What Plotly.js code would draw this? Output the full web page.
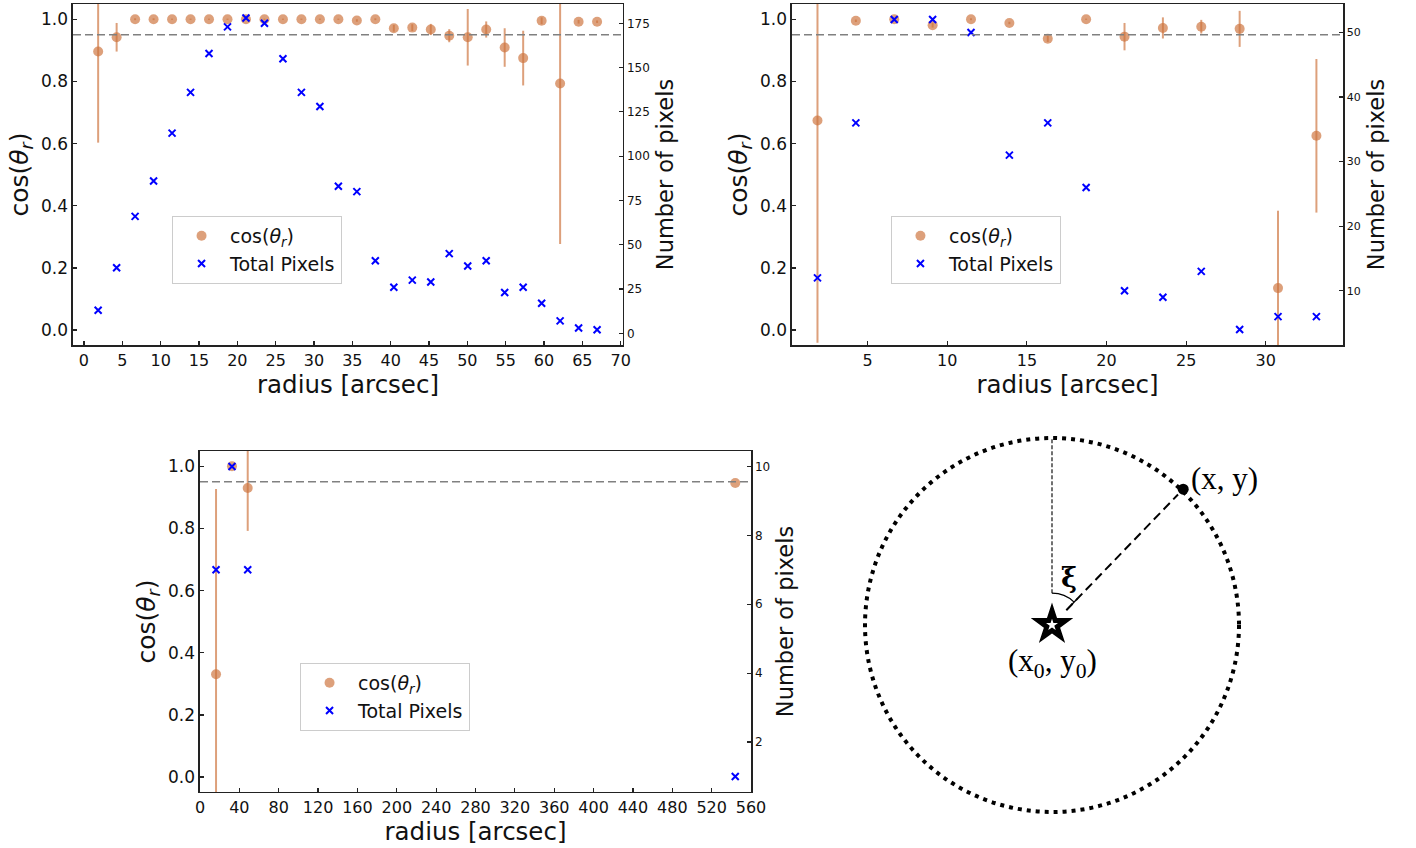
<!DOCTYPE html>
<html>
<head>
<meta charset="utf-8">
<script src="https://cdn.plot.ly/plotly-3.0.1.min.js"></script>
<style>
html,body{margin:0;padding:0;background:#fff;}
#chart{width:1416px;height:848px;}
</style>
</head>
<body>
<div id="chart"></div>
<script>
// ---------- Panel A (top-left) ----------
const radiusA = [1.85, 4.26, 6.67, 9.08, 11.49, 13.90, 16.31, 18.72, 21.13, 23.54, 25.95, 28.36, 30.77, 33.18, 35.59, 38.00, 40.41, 42.82, 45.23, 47.64, 50.05, 52.46, 54.87, 57.28, 59.69, 62.10, 64.51, 66.92];
const cosA    = [0.896, 0.942, 1.0, 1.0, 1.0, 1.0, 1.0, 1.0, 1.0, 1.0, 1.0, 1.0, 1.0, 1.0, 0.996, 1.0, 0.971, 0.973, 0.967, 0.947, 0.942, 0.967, 0.909, 0.875, 0.995, 0.793, 0.992, 0.992];
const cosErrA = [0.293, 0.046, 0.003, 0.003, 0.002, 0.002, 0.002, 0.002, 0.002, 0.002, 0.002, 0.002, 0.002, 0.002, 0.004, 0.003, 0.011, 0.011, 0.018, 0.021, 0.091, 0.026, 0.062, 0.088, 0.011, 0.516, 0.006, 0.004];
const pixA    = [13, 37, 66, 86, 113, 136, 158, 173, 178, 175, 155, 136, 128, 83, 80, 41, 26, 30, 29, 45, 38, 41, 23, 26, 17, 7, 3, 2];

// ---------- Panel B (top-right) ----------
const radiusB = [1.85, 4.26, 6.67, 9.08, 11.49, 13.90, 16.31, 18.72, 21.13, 23.54, 25.95, 28.36, 30.77, 33.18];
const cosB    = [0.674, 0.995, 1.0, 0.981, 1.0, 0.988, 0.937, 1.0, 0.944, 0.972, 0.976, 0.969, 0.135, 0.625];
const cosErrB = [0.715, 0.004, 0.003, 0.008, 0.003, 0.004, 0.010, 0.002, 0.044, 0.034, 0.022, 0.058, 0.249, 0.247];
const pixB    = [12, 36, 52, 52, 50, 31, 36, 26, 10, 9, 13, 4, 6, 6];

// ---------- Panel C (bottom-left) ----------
const radiusC = [16.3, 32.5, 48.5, 544];
const cosC    = [0.331, 1.0, 0.930, 0.946];
const cosErrC = [0.596, 0.0, 0.138, 0.0];
const pixC    = [7, 10, 7, 1];

const threshold = 0.95;
const cosLabel = 'cos(<i>θ<sub>r</sub></i>)';
const pixLabel = 'Total Pixels';

// ---------- Schematic (unit circle) ----------
const xiAngleDeg = 44;      // angle of (x, y) from vertical
const pointR = 1.01;

const orange = 'rgba(205,115,60,0.68)';
const blue = '#0000ff';
const spine = '#222222';
const FONT = 'DejaVu Sans, sans-serif';

function cosTrace(x, y, err, xa, ya, leg) {
  return {
    type: 'scatter', mode: 'markers', x: x, y: y, xaxis: xa, yaxis: ya,
    name: cosLabel, legend: leg,
    marker: {color: orange, size: 10, line: {width: 0}},
    error_y: {type: 'data', array: err, visible: true, color: orange, thickness: 2, width: 0},
    hoverinfo: 'x+y'
  };
}
function pixTrace(x, y, xa, ya, leg) {
  return {
    type: 'scatter', mode: 'markers', x: x, y: y, xaxis: xa, yaxis: ya,
    name: pixLabel, legend: leg,
    marker: {color: blue, symbol: 'x-thin-open', size: 7, line: {width: 2, color: blue}},
    hoverinfo: 'x+y'
  };
}

const traces = [
  cosTrace(radiusA, cosA, cosErrA, 'x', 'y', 'legend'),
  pixTrace(radiusA, pixA, 'x', 'y2', 'legend'),
  cosTrace(radiusB, cosB, cosErrB, 'x3', 'y3', 'legend2'),
  pixTrace(radiusB, pixB, 'x3', 'y4', 'legend2'),
  cosTrace(radiusC, cosC, cosErrC, 'x5', 'y5', 'legend3'),
  pixTrace(radiusC, pixC, 'x5', 'y6', 'legend3')
];

// schematic marks
const th = xiAngleDeg * Math.PI / 180;
traces.push({
  type: 'scatter', mode: 'markers', xaxis: 'x7', yaxis: 'y7', showlegend: false,
  x: [pointR * Math.sin(th)], y: [pointR * Math.cos(th)],
  marker: {color: 'black', size: 11}, hoverinfo: 'skip'
});
traces.push({
  type: 'scatter', mode: 'markers', xaxis: 'x7', yaxis: 'y7', showlegend: false,
  x: [0], y: [0],
  marker: {color: 'black', symbol: 'star', size: 32, line: {width: 0}}, hoverinfo: 'skip'
});
traces.push({
  type: 'scatter', mode: 'markers', xaxis: 'x7', yaxis: 'y7', showlegend: false,
  x: [0], y: [0],
  marker: {color: 'white', symbol: 'star', size: 9, line: {width: 0}}, hoverinfo: 'skip'
});

function xAxis(domain, anchor, range, tickvals, size) {
  return {
    domain: domain, anchor: anchor, range: range, autorange: false,
    tickmode: 'array', tickvals: tickvals, ticktext: tickvals.map(String),
    ticks: 'inside', ticklen: 4, tickwidth: 1.2, tickcolor: spine,
    showline: true, linecolor: spine, linewidth: 1.5, mirror: true,
    showgrid: false, zeroline: false,
    tickfont: {family: FONT, size: size, color: '#111'},
    title: {text: 'radius [arcsec]', font: {family: FONT, size: 24.5, color: '#111'}, standoff: 0}
  };
}
function yAxisL(domain, anchor) {
  return {
    domain: domain, anchor: anchor, range: [-0.048, 1.049], autorange: false,
    tickmode: 'array', tickvals: [0, 0.2, 0.4, 0.6, 0.8, 1.0], ticktext: ['0.0', '0.2', '0.4', '0.6', '0.8', '1.0'],
    ticks: 'inside', ticklen: 4, tickwidth: 1.2, tickcolor: spine,
    showline: true, linecolor: spine, linewidth: 1.5,
    showgrid: false, zeroline: false,
    tickfont: {family: FONT, size: 17, color: '#111'},
    title: {text: cosLabel, font: {family: FONT, size: 25, color: '#111'}, standoff: 5}
  };
}
function yAxisR(overlay, anchor, range, tickvals, size) {
  return {
    overlaying: overlay, anchor: anchor, side: 'right', range: range, autorange: false,
    tickmode: 'array', tickvals: tickvals, ticktext: tickvals.map(String),
    ticks: 'inside', ticklen: 4, tickwidth: 1.2, tickcolor: spine,
    showline: true, linecolor: spine, linewidth: 1.5,
    showgrid: false, zeroline: false,
    tickfont: {family: FONT, size: size, color: '#111'},
    title: {text: 'Number of pixels', font: {family: FONT, size: 22.5, color: '#111'}, standoff: 8}
  };
}

const domTopY = [0.59316, 0.99528];
const domBotY = [0.06604, 0.46816];

function legendBox(x, y) {
  return {
    x: x, y: y, xanchor: 'left', yanchor: 'top', xref: 'paper', yref: 'paper',
    bgcolor: 'rgba(255,255,255,0.85)', bordercolor: '#cccccc', borderwidth: 1,
    font: {family: FONT, size: 19, color: '#111'}, itemsizing: 'trace', itemwidth: 47, tracegroupgap: 0
  };
}

function dashLine(xref, yref) {
  return {type: 'line', xref: xref + ' domain', yref: yref, x0: 0, x1: 1, y0: threshold, y1: threshold,
          line: {color: '#808080', width: 1.5, dash: '8px,4px'}, layer: 'above'};
}

const rArc = 0.17;
const arcCtrl = rArc / Math.cos(th / 2);
const shapes = [
  dashLine('x', 'y'), dashLine('x3', 'y3'), dashLine('x5', 'y5'),
  // dotted circle
  {type: 'circle', xref: 'x7', yref: 'y7', x0: -1, x1: 1, y0: -1, y1: 1,
   line: {color: 'black', width: 4, dash: '4px,5px'}},
  // vertical reference line
  {type: 'line', xref: 'x7', yref: 'y7', x0: 0, x1: 0, y0: rArc, y1: 1,
   line: {color: '#111', width: 1.2, dash: '4px,2px'}},
  // radial dashed line
  {type: 'line', xref: 'x7', yref: 'y7', x0: 0.11 * Math.sin(th), y0: 0.11 * Math.cos(th),
   x1: 0.97 * Math.sin(th), y1: 0.97 * Math.cos(th),
   line: {color: 'black', width: 2, dash: '9px,5px'}},
  // angle arc
  {type: 'path', xref: 'x7', yref: 'y7',
   path: 'M 0 ' + rArc + ' Q ' + (arcCtrl * Math.sin(th / 2)) + ' ' + (arcCtrl * Math.cos(th / 2)) + ' ' +
         (rArc * Math.sin(th)) + ' ' + (rArc * Math.cos(th)),
   line: {color: 'black', width: 1.3}},
  // arc end tick
  {type: 'line', xref: 'x7', yref: 'y7',
   x0: (rArc - 0.025) * Math.sin(th), y0: (rArc - 0.025) * Math.cos(th),
   x1: (rArc + 0.025) * Math.sin(th), y1: (rArc + 0.025) * Math.cos(th),
   line: {color: 'black', width: 1.3}}
];

const serif = 'Liberation Serif, Times New Roman, serif';
const annotations = [
  {xref: 'x7', yref: 'y7', x: 0.925, y: 0.786, text: '(x, y)', showarrow: false,
   font: {family: serif, size: 31, color: 'black'}},
  {xref: 'x7', yref: 'y7', x: 0, y: -0.205, text: '(x<sub>0</sub>, y<sub>0</sub>)', showarrow: false,
   font: {family: serif, size: 31, color: 'black'}},
  {xref: 'x7', yref: 'y7', x: 0.092, y: 0.255, text: 'ξ', showarrow: false,
   font: {family: 'DejaVu Serif, serif', size: 27, color: 'black', weight: 'bold'}}
];

const layout = {
  width: 1416, height: 848,
  margin: {l: 0, r: 0, t: 0, b: 0},
  paper_bgcolor: 'white', plot_bgcolor: 'white',
  font: {family: FONT, color: '#111'},
  xaxis:  xAxis([0.05155, 0.43997], 'y', [-1.43, 70.3], [0,5,10,15,20,25,30,35,40,45,50,55,60,65,70], 16),
  yaxis:  yAxisL(domTopY, 'x'),
  yaxis2: yAxisR('y', 'x', [-6.6, 185.9], [0,25,50,75,100,125,150,175], 12),
  xaxis3: xAxis([0.55932, 0.94845], 'y3', [0.25, 34.85], [5,10,15,20,25,30], 16),
  yaxis3: yAxisL(domTopY, 'x3'),
  yaxis4: yAxisR('y3', 'x3', [1.6, 54.4], [10,20,30,40,50], 11),
  xaxis5: xAxis([0.14124, 0.53037], 'y5', [0, 560], [0,40,80,120,160,200,240,280,320,360,400,440,480,520,560], 16),
  yaxis5: yAxisL(domBotY, 'x5'),
  yaxis6: yAxisR('y5', 'x5', [0.55, 10.45], [2,4,6,8,10], 12),
  xaxis7: {domain: [0.59767, 0.88821], anchor: 'y7', range: [-1.1, 1.1], autorange: false, visible: false, showgrid: false, zeroline: false},
  yaxis7: {domain: [0.02040, 0.50554], anchor: 'x7', range: [-1.1, 1.1], autorange: false, visible: false, showgrid: false, zeroline: false},
  legend:  legendBox(0.1215, 0.7453),
  legend2: legendBox(0.6292, 0.7453),
  legend3: legendBox(0.2119, 0.2182),
  shapes: shapes,
  annotations: annotations,
  showlegend: true
};

Plotly.newPlot('chart', traces, layout, {displayModeBar: false, staticPlot: true});
</script>
</body>
</html>
